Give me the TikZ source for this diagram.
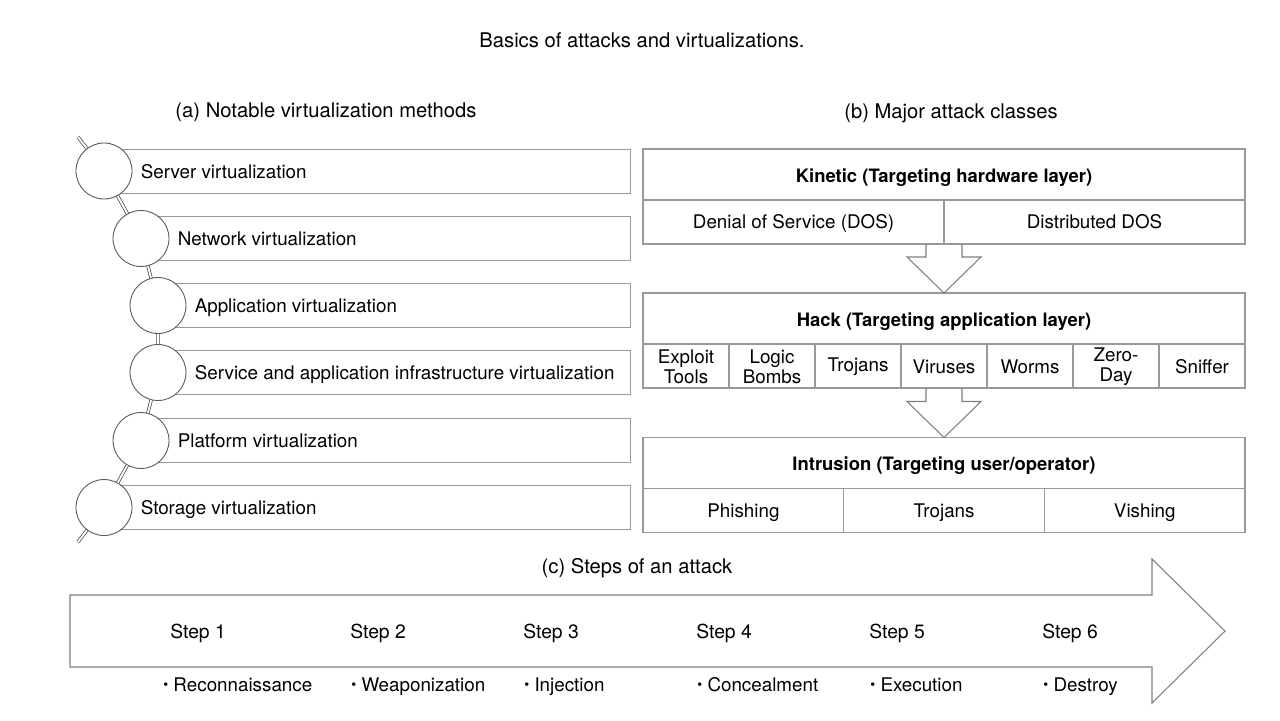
\documentclass[tikz,border=0pt]{standalone}
\usepackage{fontspec}
\setmainfont{TeX Gyre Heros}
\usetikzlibrary{calc,backgrounds}

\tikzset{
  ball/.style={circle, draw=black!65, fill=white, line width=0.5pt, minimum size=1.12cm, inner sep=0},
  rowbox/.style={draw=black!40, line width=0.5pt},
  chain/.style={draw=black!75, double=white, double distance=1.1pt, line width=0.4pt},
  classbox/.style={draw=black!40, line width=0.9pt, inner sep=0, outer sep=0, minimum width=12.04cm, minimum height=1.9cm},
  classline/.style={draw=black!40, line width=0.6pt},
  fatarrow/.style={draw=black!50, line width=0.6pt, line join=miter},
  txt/.style={text height=0.9em, text depth=0.1em},
  lbl/.style={txt, inner sep=0, anchor=west},
  caption/.style={txt, font=\fontsize{11.5}{14}\selectfont}
}
\newcommand{\stepdot}{\raisebox{0.08em}{\fontsize{8}{9}\selectfont\textbullet}}

\begin{document}
\begin{tikzpicture}[x=0.02cm, y=-0.02cm, font=\fontsize{10.7}{13}\selectfont]
\useasboundingbox (0,0) rectangle (1280,720);

% titles
\node[caption] (title) at (642,40) {Basics of attacks and virtualizations.};
\node[caption] (capA) at (326,110) {(a) Notable virtualization methods};
\node[caption] (capB) at (951,111) {(b) Major attack classes};
\node[caption] (capC) at (637,566) {(c) Steps of an attack};

% (a) virtualization methods
\foreach \i/\x/\y/\name in {1/104/171/Server virtualization,
    2/141/238.5/Network virtualization,
    3/158/305.5/Application virtualization,
    4/158/372.5/Service and application infrastructure virtualization,
    5/141/440.5/Platform virtualization,
    6/104/507.5/Storage virtualization} {
  \node[ball] (c\i) at (\x,\y) {};
  \node[lbl] (v\i) at ($(c\i.east)+(8,0)$) {\name};
  \begin{scope}[on background layer]
    \draw[rowbox] (\x,\y-22) rectangle (630,\y+22);
  \end{scope}
}
\coordinate (chainTop) at (78,137);
\coordinate (chainEnd) at (78,542);
\begin{scope}[on background layer]
  \draw[chain] (chainTop) -- (c1.center) -- (c2.center) -- (c3.center) -- (c4.center)
    -- (c5.center) -- (c6.center) -- (chainEnd);
\end{scope}

% (b) attack classes
\node[classbox] (kinetic) at (944,196.5) {};
\node[classbox] (hack) at (944,340.5) {};
\node[classbox] (intrusion) at (944,485) {};
\foreach \b/\t in {kinetic/{Kinetic (Targeting hardware layer)},
    hack/{Hack (Targeting application layer)},
    intrusion/{Intrusion (Targeting user/operator)}} {
  \draw[classline] ($(\b.north west)+(0,51)$) -- ($(\b.north east)+(0,51)$);
  \node[txt, font=\fontsize{10.5}{13}\selectfont\bfseries] (\b-head) at ($(\b.north)+(0,26)$) {\t};
}
\draw[classline] ($(kinetic.south)+(0,-44)$) -- (kinetic.south);
\node[txt] (dos) at ($(kinetic.south)+(-150.5,-22.5)$) {Denial of Service (DOS)};
\node[txt] (ddos) at ($(kinetic.south)+(150.5,-22.5)$) {Distributed DOS};

\foreach \t [count=\k] in {Exploit\\Tools, Logic\\Bombs, Trojans, Viruses, Worms, Zero-\\Day, Sniffer} {
  \node[align=center, font=\fontsize{10.7}{11.5}\selectfont] (h\k) at (600+86*\k,366.5) {\t};
}
\foreach \k in {1,...,6} {
  \draw[classline] (643+86*\k,344) -- (643+86*\k,388);
}

\foreach \t [count=\k] in {Phishing, Trojans, Vishing} {
  \node[txt] (u\k) at (542.7+200.7*\k,510) {\t};
}
\draw[classline] (843.7,488) -- (843.7,532);
\draw[classline] (1044.3,488) -- (1044.3,532);

% hollow arrows between classes
\foreach \a/\b in {kinetic/hack, hack/intrusion} {
  \draw[fatarrow] ($(\a.south)+(-18,0)$) -- ($(\b.north)+(-18,-36)$) -- ($(\b.north)+(-37,-36)$)
    -- (\b.north) -- ($(\b.north)+(37,-36)$) -- ($(\b.north)+(18,-36)$) -- ($(\a.south)+(18,0)$);
}

% (c) steps of an attack
\draw[fatarrow] (70,595) -- (1152,595) -- (1152,559) -- (1225,631) -- (1152,703)
  -- (1152,667) -- (70,667) -- cycle;
\foreach \x/\bx/\w [count=\k] in {170/163/Reconnaissance, 350/351/Weaponization, 523/524/Injection,
    696/697/Concealment, 869/870/Execution, 1042/1043/Destroy} {
  \node[lbl, font=\fontsize{11}{13}\selectfont] (s\k) at (\x,631) {Step \k};
  \node[lbl] (b\k) at (\bx,684) {\stepdot\ \w};
}
\end{tikzpicture}
\end{document}
